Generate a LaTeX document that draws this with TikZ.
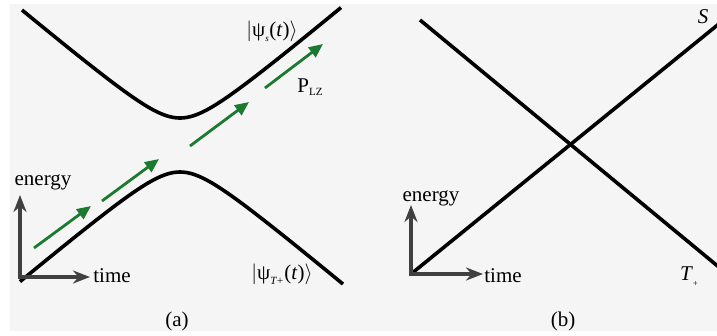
\documentclass[tikz,border=0pt]{standalone}
\usepackage{fontspec}
\setmainfont{Liberation Serif}
\usetikzlibrary{arrows.meta}
\definecolor{bggray}{RGB}{245,245,245}
\definecolor{lzgreen}{RGB}{28,122,48}
\definecolor{axgray}{RGB}{64,64,64}
\begin{document}
\begin{tikzpicture}[x=1pt,y=-1pt,
  curve/.style={line width=3.6pt, black},
  lzarrow/.style={draw=lzgreen, line width=2.8pt, -{Triangle[length=14pt,width=12pt]}},
  axisarr/.style={draw=axgray, line width=3.8pt, line join=miter, {Stealth[length=17pt,width=13pt]}-{Stealth[length=17pt,width=13pt]}},
  lbl/.style={font=\fontsize{21}{23}\selectfont, inner sep=0pt},
  captionlbl/.style={font=\fontsize{21}{23}\selectfont, inner sep=0pt}]
\useasboundingbox (0,0) rectangle (717,335);
\fill[white] (0,0) rectangle (717,335);
\fill[bggray] (10,4) rectangle (717,331);

% ---------- panel (a) ----------
\draw[curve] plot[domain=22:341, samples=120, smooth] (\x, {145 - 10*sqrt((0.0837*(\x-180))^2 + 2.7^2)});
\draw[curve] plot[domain=20:343, samples=120, smooth] (\x, {145 + 10*sqrt((0.0837*(\x-180))^2 + 2.7^2)});

\coordinate (g1s) at (34,248);  \coordinate (g1e) at (91,206);
\coordinate (g2s) at (102,201); \coordinate (g2e) at (159,159);
\coordinate (g3s) at (190,146); \coordinate (g3e) at (249,102);
\coordinate (g4s) at (265,88);  \coordinate (g4e) at (323,44);
\draw[lzarrow] (g1s) -- (g1e);
\draw[lzarrow] (g2s) -- (g2e);
\draw[lzarrow] (g3s) -- (g3e);
\draw[lzarrow] (g4s) -- (g4e);

\coordinate (oa) at (20,277);
\coordinate (ya) at (20,195);
\coordinate (xa) at (90,277);
\draw[axisarr] (ya) -- (oa) -- (xa);

\node[lbl] (ena) at (43,182) {energy};
\node[lbl] (tia) at (112,276) {time};
\node[lbl] (psis) at (272,31) {$\left|\mbox{ψ}_{\mbox{\fontsize{9}{10}\selectfont\itshape s}}\mbox{(\textit{t})}\right\rangle$};
\node[lbl] (psit) at (282,274) {$\left|\mbox{ψ}_{\mbox{\fontsize{11}{12}\selectfont\itshape T+}}\mbox{(\textit{t})}\right\rangle$};
\node[lbl] (plz) at (310,87) {P\raisebox{-0.35ex}{\fontsize{11}{12}\selectfont LZ}};
\node[captionlbl] (capa) at (177,321) {(a)};

% ---------- panel (b) ----------
\coordinate (b1s) at (420,20);  \coordinate (b1e) at (720,268);
\coordinate (ob) at (411,274);
\coordinate (b2e) at (720,23);
\draw[curve] (b1s) -- (b1e);
\draw[curve] (ob) -- (b2e);

\coordinate (yb) at (411,205);
\coordinate (xb) at (483,274);
\draw[axisarr] (yb) -- (ob) -- (xb);

\node[lbl] (enb) at (431,198) {energy};
\node[lbl] (tib) at (503,276) {time};
\node[lbl] (slab) at (703,17) {\textit{S}};
\node[lbl] (tlab) at (689,277) {\textit{T}\raisebox{-0.6ex}{\fontsize{9}{10}\selectfont +}};
\node[captionlbl] (capb) at (563,321) {(b)};
\end{tikzpicture}
\end{document}
